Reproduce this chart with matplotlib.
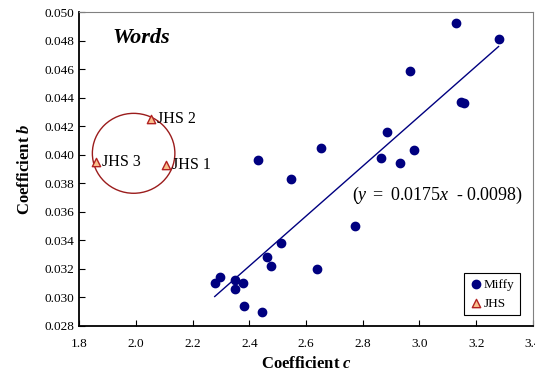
import numpy as np
import matplotlib.pyplot as plt
from matplotlib.patches import Ellipse

plt.rcParams['font.family'] = ['Liberation Serif', 'DejaVu Serif']
plt.rcParams['mathtext.fontset'] = 'custom'
plt.rcParams['mathtext.rm'] = 'Liberation Serif'
plt.rcParams['mathtext.it'] = 'Liberation Serif:italic'
plt.rcParams['mathtext.bf'] = 'Liberation Serif:italic:bold'

# данные Miffy (coefficient c, coefficient b)
miffy_c = [3.128, 3.279, 2.966, 3.145, 3.156, 2.884, 2.654, 2.863, 2.982, 2.931,
           2.430, 2.547, 2.772, 2.511, 2.463, 2.478, 2.638, 2.443, 2.278, 2.295,
           2.349, 2.351, 2.378, 2.381]
miffy_b = [0.0492, 0.0481, 0.0459, 0.0437, 0.0436, 0.0416, 0.0405, 0.0398, 0.0403, 0.0394,
           0.0396, 0.0383, 0.0350, 0.0338, 0.0328, 0.0322, 0.0320, 0.0290, 0.0310, 0.0314,
           0.0312, 0.0306, 0.0310, 0.0294]

# данные JHS
jhs_names = ['JHS 1', 'JHS 2', 'JHS 3']
jhs_c = [2.106, 2.055, 1.859]
jhs_b = [0.0393, 0.0425, 0.0395]

# линия регрессии y = 0.0175x - 0.0098
slope = 0.0175
intercept = -0.0098

fig = plt.figure(figsize=(5.35, 3.76), dpi=100)
ax = fig.add_axes([0.148, 0.133, 0.848, 0.835])

ax.scatter(miffy_c, miffy_b, s=36, color='#000080', zorder=3, label='Miffy')
ax.scatter(jhs_c, jhs_b, s=36, marker='^', facecolor='#F9C08C', edgecolor='#B22222',
           linewidth=1, zorder=3, label='JHS')

xl = np.array([min(miffy_c), max(miffy_c)])
ax.plot(xl, slope * xl + intercept, color='#000080', linewidth=1, zorder=2)

for name, c, b in zip(jhs_names, jhs_c, jhs_b):
    ax.text(c + 0.02, b, name, fontsize=11.5, va='center', ha='left')

# круг вокруг точек JHS
ax.add_patch(Ellipse((1.992, 0.0401), 0.291, 0.0056, fill=False,
                     edgecolor='#9B1C1C', linewidth=1))

ax.text(1.919, 0.0478, 'Words', fontsize=16, fontweight='bold', fontstyle='italic',
        va='baseline')
ax.text(2.761, 0.03683, r'$(\mathit{y}\ =\ 0.0175\mathit{x}\ \ \text{-}\ 0.0098)$',
        fontsize=13, ha='left', va='baseline')

ax.set_xlim(1.8, 3.4)
ax.set_ylim(0.028, 0.050)
ax.set_xticks(np.arange(1.8, 3.41, 0.2))
ax.set_yticks(np.arange(0.028, 0.0501, 0.002))
ax.xaxis.set_major_formatter(plt.FormatStrFormatter('%.1f'))
ax.yaxis.set_major_formatter(plt.FormatStrFormatter('%.3f'))
ax.tick_params(direction='in', length=4, labelsize=9.5, colors='black')
ax.tick_params(axis='x', pad=9)

ax.spines['top'].set_color('#808080')
ax.spines['right'].set_color('#808080')
ax.spines['left'].set_linewidth(1.3)
ax.spines['bottom'].set_linewidth(1.3)

ax.set_xlabel(r'Coefficient $\mathbf{c}$', fontsize=12, fontweight='bold', labelpad=4)
ax.set_ylabel(r'Coefficient $\mathbf{b}$', fontsize=12, fontweight='bold', labelpad=8)

leg = ax.legend(loc='lower right', bbox_to_anchor=(0.971, 0.035), borderaxespad=0,
                fontsize=9.5, handletextpad=0.1, handlelength=1.0, borderpad=0.4,
                labelspacing=0.5, fancybox=False, edgecolor='black', framealpha=1)
leg.get_frame().set_linewidth(0.8)

plt.savefig('out.png', dpi=100)
